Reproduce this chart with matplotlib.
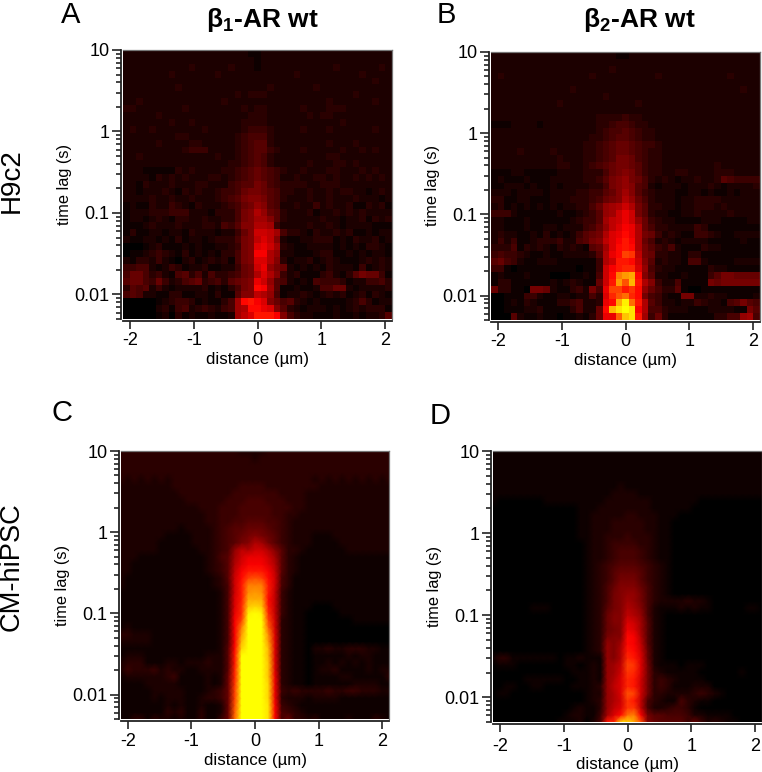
import numpy as np
import matplotlib
matplotlib.use("Agg")
import matplotlib.pyplot as plt
from matplotlib.colors import LinearSegmentedColormap
from matplotlib.ticker import LogLocator, NullFormatter, FixedFormatter, FixedLocator

plt.rcParams['font.family'] = ['Liberation Sans', 'DejaVu Sans']
plt.rcParams['mathtext.fontset'] = 'custom'
plt.rcParams['mathtext.bf'] = 'Liberation Sans:bold'
plt.rcParams['mathtext.rm'] = 'Liberation Sans'

# Intensity per cell, one base-36 character per cell.
# Top row = 10 s, bottom row = 0.005 s. Groups: 10 | 10 | centre | 10 | 10 columns.
panel_a = """
2222222222 2222222221 1 2222222222 2222222222
2222222222 2222222222 1 2222222222 2222222222
2222222222 3222223222 1 2222222222 2322222232
2222222322 2222322222 2 2222232222 2222232222
2222222222 2222222222 2 2222222222 2222222322
2222222232 2222222222 2 2322222232 2222222222
2222222222 2222222323 3 3222222222 2222322222
2232222222 2222232222 2 2222222222 3222222322
3322222223 2222222232 3 3222223222 3332222222
2222232222 2222222223 3 3222222323 3222222222
2222222322 3222222233 3 3222222222 2232222222
2322322222 2232222234 4 4322223222 3222222322
2222222233 2222222345 5 5322222222 2222222222
2222232222 3322222345 6 6322222222 3222322222
2222222223 4442222345 6 6432223222 2232232322
2232222222 2222322345 6 5322222222 3322222222
2222222222 2222223345 6 5322222322 2332322222
2221111132 3222233456 7 6543223222 3322232322
2222132323 2223323456 7 6542232233 2322323232
2213222322 2332224566 8 7543333223 3322222222
2212223213 2322344578 8 7653322322 3233221232
2222322322 3222345689 9 8653222322 3222322212
1211322432 1322234578 a 9652232242 3223113231
1222333444 2221333589 c a763222312 2323232222
1221232133 2232233589 b b963222223 2212231323
1112322232 2233254699 c cb42222322 3212222111
1311221221 3222122479 e edb5332132 2323112122
2112212131 2212333589 d fd92112233 3121322312
0001231112 1211223489 f geb3211222 2121213321
0112343213 1212133589 h hca2211123 3112121221
2133242102 3123231589 f fc93122312 3211123232
4455212431 2231122478 e ga87212121 3222141232
5775342156 3525334578 c fc94231113 4213687741
6775474235 6734536789 g ea65212154 4431224453
3656242122 2231213589 i hb61121125 5772122223
5652211331 1221311699 d ca51223212 3231231321
0000012344 3121135bij h f975632121 1112353122
0000023145 2343245bci i gf96321222 1212323331
0000012031 2112112bdf j jjh9532211 1211212236
"""

panel_b = """
2222222222 2222222221 1 2222222222 2222222222
2222222222 2222222222 2 2222222222 2222222222
2222222222 2222222232 2 2222222222 2222222222
2322222222 2222232222 2 2222322222 2222232222
2222222222 2222222222 2 2222222222 2222222222
2222222222 2232222222 2 2222222222 2222222322
2222222222 2222222322 2 2222222222 2222222222
2222222222 3222222222 2 2322222222 2222222222
2222222222 2222222222 2 2222222222 2222222222
2222222222 2222223333 4 3322222222 2222222222
1112222122 2222223345 5 4332222222 2222222222
2222222222 2222223455 6 5433222222 2222222222
2222222222 2222233456 6 5433222222 2222222222
2222222222 2222334567 7 6544322222 2222222222
2222322223 2222334567 7 6543322222 2222222222
2222222222 3222334568 8 7543322222 2222222222
2222222222 3322345678 8 7643322222 2223222222
1112211111 2222333578 9 8643322332 2223332222
1211121112 2222334689 a 8753232122 3223654444
1122212112 1222233589 a 9652122212 2232122223
2221222212 2223344679 b 9643222112 2121121222
3311221112 2233345789 c a753222122 3333222222
2312121212 1223357abc e c863322122 3332322222
4442111111 2112346abe g e863221122 3222232222
2211121111 1123446bde g ea74322111 1222111122
2211121122 1222457adf h gc75332222 4311111111
2322112131 2124678cfg i gc87423211 4432112222
2424112333 4225689dfh j hc75232122 2211111211
3335132321 3232167bfi j ic86435211 1322111111
4544321121 1222236cgi m ld87332213 3111111111
6754211222 1111114cej j ie96232215 5211112222
4410111111 1110114ehj k kfa5322111 1132211111
1211121110 0011215eiq s ti96221121 1146887777
1331111112 1232117ejs n ujc9422511 1187888888
7331108872 1134285gmm j lia7533610 0111111111
0011144211 2212253fkn p ki85421188 2232211112
0012132111 3345223git y pjc6422122 4322156865
0011122311 1135227iux z xhc5532221 1122221186
0006211211 0112137ggo v xjb4731111 1113355ab5
"""

panel_c = """
3333333333 3333333322 2 2333333333 3333333333
3333333333 3333333333 2 3333333333 3333333333
3333333333 3333333333 3 3333333333 3333333333
3333333333 3333333333 3 3333333333 3333333333
3232323233 3333333333 3 3333333323 2323232323
2222222233 3333333344 4 4333333332 2222222222
2222222223 3333333444 4 4443333222 2222222222
2222222222 3333334445 5 5444333222 2222222222
2222222222 2233344455 5 5544433222 2222222222
2222222222 2223344455 5 5544332222 2222222222
2222222222 2223344556 6 6554322222 2222222222
2222222221 2222345667 7 7654322222 2222222222
2222222111 1222345678 9 8764322211 1222222222
2222221111 1222345689 c b864322211 1122222222
2222221111 1122345adc e ec96332111 1112222222
2221111111 1112356beg g geb6321111 1111111111
2211111111 1112346cfh h hfc6321111 1111111111
2211111111 1112346dhj j jhd6321111 1111111111
2111111111 1111236eim n mie5311111 1111111111
2111111111 1111235ejq q qje5311111 1111111111
1111111111 1111125ejr s rjd4211111 1111111111
1111111111 1111125fjt t tid4211111 1111111111
1111111111 1111125fkv w vjd4211100 0111111111
1111111111 1111125gky z ykd4211000 0011111111
1111111111 1111125hmz z zme3211000 0000111111
1211111111 1111125hqz z zoe3211000 0000000000
3322211111 1111125hsz z zrf3211000 0000000000
2222211111 1111125huz z zsf3211000 0000000000
1111111111 1111126iwz z zuf3211022 3223332211
1222111111 1112226jzz z zuf3211011 1112122111
2333111221 2223226jzz z zvf3211011 2121212111
2433342322 1122226kzz z zvf3211012 2311112122
1222222341 1112127kzz z zvg3211011 1122111113
1111222221 1112127lzz z zwg3211011 1111222211
1111122222 1112347mzz z zwg4343333 4334433322
1111121222 1123347mzz z zwg3222122 2211111111
1111111212 1121127nzz z zxh4321111 1111111111
1111111323 1131127ozz z zxh5432111 1111111111
1133132212 1131147pzz z zxh5733231 1112111321
"""

panel_d = """
1111111111 1111111111 1 1111111111 1111111111
1111111111 1111111111 1 1111111111 1111111111
1111111111 1111111111 1 1111111111 1111111111
1111111111 1111111111 1 1111111111 1111111111
1111111111 1111111111 1 1111111111 1111111111
1111111111 1111111112 1 1111111111 1111111111
1111111111 1111111122 2 2111111111 1111111111
1000000011 1111111222 2 2221111111 0000000000
0000000000 0001112222 2 2221111110 0000000000
0000000000 0001122222 3 3222111000 0000000000
0000000000 0001122233 3 3322110000 0000000000
0000000000 0001122233 3 3322110000 0000000000
0000000000 0001122333 4 3332110000 0000000000
0000000000 0000122344 4 4332110000 0000000000
0000000000 0000122345 5 5432110000 0000000000
0000000000 0000122345 5 5432110000 0000000000
0000000000 0000123456 6 6543210000 0000000000
0000000000 0000123467 7 7643210000 0000000000
0000000000 0000123468 8 8643210000 0000000000
0000000000 0000123579 9 9753210000 0000000000
0000000000 0000123589 a a853210000 0000000000
0000000000 0000123589 b a853222232 2100000000
0000001110 0000123689 c b952111212 1100000110
0000000000 0000123799 d ca52100000 0000000000
0000000000 0000123799 f eb62100000 0000000000
0000000000 0000123789 g fb62100000 0000000000
0000000000 0000123899 i hc62100000 0000000000
0000000000 0000123a9b i hd62100000 0000000000
0000000000 0000123a9c j ie72100000 0000000000
1331111111 0112111a9c k jf72100000 0000000000
0111000000 0110121abd m lf82111011 1000000000
0000000000 0011121abe l kf83211111 0000001000
0000011111 1001121acf k je83432111 1000000000
0011001100 0011123adf k je83431112 2200000000
0110000000 0000122acf n me83322223 4321000000
0000000000 0000123ace l jd53211532 1100000000
0000000000 0012113adf l ld52234431 0000000000
0000000000 0122114bfi p qh86655542 2111100000
0000000000 1112025jkw w tn97666647 4232110000
"""

panel_rows = {
    'A': panel_a, 'B': panel_b, 'C': panel_c, 'D': panel_d,
}
panel_letters = ['A', 'B', 'C', 'D']
panel_titles = ['β$_{\\mathbf{1}}$-AR wt', 'β$_{\\mathbf{2}}$-AR wt', '', '']
row_labels = ['H9c2', 'CM-hiPSC']
y_ticks = [0.01, 0.1, 1, 10]
y_tick_labels = ['0.01', '0.1', '1', '10']
x_ticks = [-2, -1, 0, 1, 2]
x_tick_labels = ['-2', '-1', '0', '1', '2']
x_range = (-2.11, 2.11)
y_range = (0.005, 10)

cmap = LinearSegmentedColormap.from_list('redyellow', [(0, '#000000'), (0.5, '#ff0000'), (1, '#ffff00')])


def parse(txt):
    rows = []
    for line in txt.strip().splitlines():
        s = line.replace(' ', '')
        s = s[:41].ljust(41, s[-1])
        rows.append([int(ch, 36) for ch in s])
    return np.array(rows, float)


W, H = 762, 772
fig = plt.figure(figsize=(W / 100, H / 100), dpi=100)
# pixel boxes: left, top, right, bottom
boxes = {'A': (123, 50, 392, 319), 'B': (491, 52, 760, 320),
         'C': (121, 451, 389, 719), 'D': (493, 451, 762, 722)}
letter_pos = {'A': (71, 15), 'B': (446, 15), 'C': (62, 413), 'D': (440, 416)}
title_pos = {'A': (262, 20), 'B': (639, 20)}
smooth = {'A': False, 'B': False, 'C': True, 'D': True}
x_tick_pad = {'A': 2.5, 'B': 2.5, 'C': 3, 'D': 4}

for i, key in enumerate(panel_letters):
    l, t, r, b = boxes[key]
    ax = fig.add_axes([l / W, 1 - b / H, (r - l) / W, (b - t) / H])
    data = parse(panel_rows[key])[::-1]
    ny, nx = data.shape
    ax.set_yscale('log')
    if smooth[key]:
        xc = np.linspace(x_range[0], x_range[1], nx)
        yc = np.geomspace(y_range[0], y_range[1], ny)
        ax.pcolormesh(xc, yc, data, cmap=cmap, vmin=0, vmax=35, shading='gouraud', rasterized=True)
    else:
        xe = np.linspace(x_range[0], x_range[1], nx + 1)
        ye = np.geomspace(y_range[0], y_range[1], ny + 1)
        ax.pcolormesh(xe, ye, data, cmap=cmap, vmin=0, vmax=35, shading='flat', rasterized=True)
    ax.set_xlim(*x_range)
    ax.set_ylim(*y_range)
    ax.yaxis.set_major_locator(FixedLocator(y_ticks))
    ax.yaxis.set_major_formatter(FixedFormatter(y_tick_labels))
    ax.yaxis.set_minor_locator(LogLocator(base=10, subs=range(2, 10), numticks=12))
    ax.yaxis.set_minor_formatter(NullFormatter())
    ax.set_xticks(x_ticks)
    ax.set_xticklabels(x_tick_labels)
    ax.tick_params(axis='x', which='major', length=6, width=1.1, labelsize=13, pad=x_tick_pad[key], color='#111111')
    ax.tick_params(axis='y', which='major', length=6.5, width=1.1, labelsize=13, pad=2, color='#111111')
    ax.tick_params(axis='y', which='minor', length=3.5, width=1.1, color='#111111')
    ax.set_xlabel('distance (µm)', fontsize=12.2, labelpad=2)
    ax.set_ylabel('time lag (s)', fontsize=11.8, labelpad=2)
    for s in ('top', 'right'):
        ax.spines[s].set_color('#777777')
        ax.spines[s].set_linewidth(0.9)
    for s in ('left', 'bottom'):
        ax.spines[s].set_color('#222222')
        ax.spines[s].set_linewidth(1.3)
        ax.spines[s].set_position(('outward', 1.2))
    fx, fy = letter_pos[key]
    fig.text(fx / W, 1 - fy / H, key, fontsize=21, ha='center', va='center')
    if panel_titles[i]:
        px, py = title_pos[key]
        fig.text(px / W, 1 - py / H, panel_titles[i], fontsize=19, fontweight='bold', ha='center', va='center')

fig.text(12 / W, 1 - 181 / H, row_labels[0], fontsize=20, rotation=90, ha='center', va='center')
fig.text(12 / W, 1 - 567 / H, row_labels[1], fontsize=19.6, rotation=90, ha='center', va='center')

fig.savefig('out.png', dpi=100)
